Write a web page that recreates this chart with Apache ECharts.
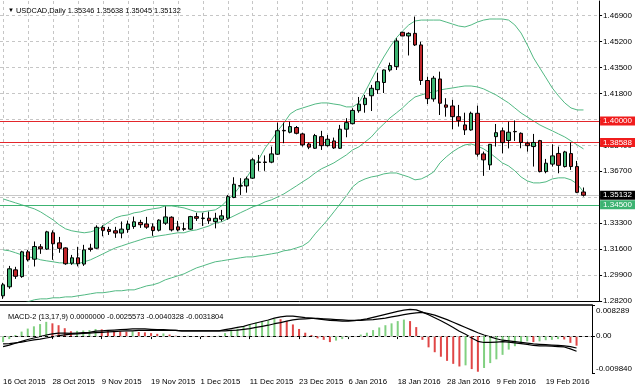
<!DOCTYPE html>
<html><head><meta charset="utf-8">
<script src="https://cdn.jsdelivr.net/npm/echarts@6/dist/echarts.min.js"></script>
<style>html,body{margin:0;padding:0;background:#fff}#c{width:635px;height:391px}</style>
</head><body><div id="c"></div>
<script>
const dates = ["16 Oct 2015","19 Oct 2015","20 Oct 2015","21 Oct 2015","22 Oct 2015","23 Oct 2015","26 Oct 2015","27 Oct 2015","28 Oct 2015","29 Oct 2015","30 Oct 2015",
"2 Nov 2015","3 Nov 2015","4 Nov 2015","5 Nov 2015","6 Nov 2015","9 Nov 2015","10 Nov 2015","11 Nov 2015","12 Nov 2015","13 Nov 2015",
"16 Nov 2015","17 Nov 2015","18 Nov 2015","19 Nov 2015","20 Nov 2015","23 Nov 2015","24 Nov 2015","25 Nov 2015","26 Nov 2015","27 Nov 2015",
"30 Nov 2015","1 Dec 2015","2 Dec 2015","3 Dec 2015","4 Dec 2015","7 Dec 2015","8 Dec 2015","9 Dec 2015","10 Dec 2015","11 Dec 2015",
"14 Dec 2015","15 Dec 2015","16 Dec 2015","17 Dec 2015","18 Dec 2015","21 Dec 2015","22 Dec 2015","23 Dec 2015","24 Dec 2015",
"28 Dec 2015","29 Dec 2015","30 Dec 2015","31 Dec 2015","4 Jan 2016","5 Jan 2016","6 Jan 2016","7 Jan 2016","8 Jan 2016",
"11 Jan 2016","12 Jan 2016","13 Jan 2016","14 Jan 2016","15 Jan 2016","18 Jan 2016","19 Jan 2016","20 Jan 2016","21 Jan 2016","22 Jan 2016",
"25 Jan 2016","26 Jan 2016","27 Jan 2016","28 Jan 2016","29 Jan 2016","1 Feb 2016","2 Feb 2016","3 Feb 2016","4 Feb 2016","5 Feb 2016",
"8 Feb 2016","9 Feb 2016","10 Feb 2016","11 Feb 2016","12 Feb 2016","15 Feb 2016","16 Feb 2016","17 Feb 2016","18 Feb 2016","19 Feb 2016",
"22 Feb 2016","23 Feb 2016","24 Feb 2016","25 Feb 2016","26 Feb 2016"];
const rightShiftSlots = 2;

const opens = [1.2854,1.2913,1.3024,1.2980,1.3142,1.3094,1.3175,1.3160,1.3267,1.3201,1.3168,1.3068,1.3103,1.3062,1.3166,1.3166,1.3303,1.3289,1.3280,1.3265,
1.3289,1.3308,1.3335,1.3325,1.3306,1.3284,1.3330,1.3369,1.3306,1.3294,1.3291,1.3373,1.3363,1.3363,1.3340,1.3356,1.3363,1.3498,1.3573,1.3574,
1.3625,1.3728,1.3731,1.3730,1.3782,1.3938,1.3926,1.3957,1.3915,1.3849,1.3821,1.3897,1.3838,1.3869,1.3821,1.3946,1.3982,1.4067,1.4107,1.4165,
1.4205,1.4252,1.4334,1.4356,1.4581,1.4557,1.4574,1.4498,1.4265,1.4144,1.4275,1.4105,1.4098,1.4028,1.3974,1.3941,1.4050,1.3784,1.3712,1.3897,
1.3935,1.3872,1.3931,1.3919,1.3854,1.3832,1.3871,1.3668,1.3717,1.3787,1.3701,1.3786,1.3701,1.35346];
const closes = [1.2926,1.3031,1.2982,1.3142,1.3090,1.3177,1.3162,1.3273,1.3195,1.3165,1.3064,1.3103,1.3064,1.3155,1.3158,1.3303,1.3283,1.3276,1.3265,1.3291,
1.3324,1.3339,1.3320,1.3304,1.3282,1.3350,1.3371,1.3286,1.3286,1.3290,1.3373,1.3362,1.3361,1.3346,1.3362,1.3378,1.3504,1.3585,1.3576,1.3620,
1.3745,1.3731,1.3728,1.3784,1.3936,1.3935,1.3963,1.3919,1.3843,1.3828,1.3904,1.3838,1.3880,1.3823,1.3946,1.3989,1.4069,1.4110,1.4149,1.4214,
1.4257,1.4334,1.4363,1.4524,1.4557,1.4574,1.4498,1.4265,1.4146,1.4280,1.4116,1.4090,1.4028,1.4002,1.3941,1.4050,1.3782,1.3745,1.3847,1.3923,
1.3858,1.3926,1.3929,1.3859,1.3838,1.3859,1.3668,1.3723,1.3771,1.3709,1.3797,1.3701,1.3532,1.35132];
const lows = [1.2834,1.2900,1.2965,1.2972,1.3079,1.3046,1.3129,1.3155,1.3090,1.3136,1.3057,1.3057,1.3047,1.3050,1.3144,1.3162,1.3244,1.3253,1.3234,1.3231,
1.3267,1.3293,1.3299,1.3293,1.3247,1.3276,1.3319,1.3276,1.3276,1.3280,1.3286,1.3345,1.3312,1.3325,1.3296,1.3341,1.3352,1.3494,1.3515,1.3530,
1.3620,1.3673,1.3673,1.3723,1.3777,1.3854,1.3919,1.3912,1.3832,1.3815,1.3817,1.3810,1.3832,1.3817,1.3817,1.3893,1.3977,1.4054,1.4054,1.4065,
1.4177,1.4183,1.4323,1.4334,1.4555,1.4429,1.4491,1.4236,1.4111,1.4126,1.4039,1.4028,1.3946,1.3963,1.3908,1.3936,1.3766,1.3640,1.3679,1.3832,
1.3788,1.3820,1.3869,1.3821,1.3799,1.3701,1.3663,1.3657,1.3701,1.3657,1.3695,1.3679,1.3527,1.35045];
const highs = [1.2939,1.3050,1.3044,1.3149,1.3155,1.3210,1.3193,1.3280,1.3283,1.3240,1.3172,1.3122,1.3175,1.3188,1.3195,1.3316,1.3316,1.3306,1.3306,1.3341,
1.3347,1.3373,1.3352,1.3371,1.3329,1.3355,1.3440,1.3375,1.3345,1.3334,1.3378,1.3398,1.3398,1.3406,1.3398,1.3417,1.3515,1.3631,1.3625,1.3635,
1.3756,1.3777,1.3774,1.3832,1.3989,1.3989,1.3995,1.3967,1.3923,1.3858,1.3915,1.3935,1.3908,1.3891,1.3974,1.4018,1.4083,1.4157,1.4170,1.4236,
1.4316,1.4337,1.4382,1.4542,1.4583,1.4581,1.4684,1.4519,1.4290,1.4295,1.4323,1.4149,1.4138,1.4105,1.4054,1.4061,1.4100,1.3799,1.3849,1.3980,
1.3956,1.3995,1.4003,1.3925,1.3864,1.3915,1.3876,1.3751,1.3847,1.3832,1.3804,1.3859,1.3738,1.35638];

const bbUpper = [1.3489,1.3476,1.3463,1.3450,1.3437,1.3424,1.3404,1.3378,1.3352,1.3319,1.3293,1.3280,1.3273,1.3267,1.3273,1.3286,1.3312,1.3339,1.3365,1.3378,
1.3384,1.3398,1.3404,1.3417,1.3424,1.3430,1.3443,1.3443,1.3437,1.3430,1.3417,1.3404,1.3404,1.3411,1.3417,1.3443,1.3483,1.3522,1.3574,1.3627,
1.3692,1.3751,1.3823,1.3876,1.3935,1.3987,1.4046,1.4072,1.4085,1.4098,1.4111,1.4118,1.4118,1.4111,1.4105,1.4092,1.4092,1.4118,1.4190,1.4269,
1.4347,1.4419,1.4485,1.4544,1.4589,1.4629,1.4655,1.4661,1.4661,1.4661,1.4661,1.4648,1.4635,1.4622,1.4616,1.4629,1.4648,1.4661,1.4668,1.4668,
1.4668,1.4661,1.4629,1.4576,1.4498,1.4413,1.4347,1.4282,1.4216,1.4164,1.4118,1.4085,1.4072,1.4072];
const bbMiddle = [1.3155,1.3149,1.3136,1.3122,1.3109,1.3103,1.3090,1.3083,1.3077,1.3070,1.3070,1.3064,1.3064,1.3077,1.3090,1.3109,1.3129,1.3149,1.3168,1.3181,
1.3195,1.3208,1.3221,1.3234,1.3240,1.3247,1.3253,1.3260,1.3267,1.3267,1.3280,1.3286,1.3299,1.3312,1.3332,1.3339,1.3358,1.3378,1.3398,1.3417,
1.3437,1.3450,1.3470,1.3483,1.3502,1.3522,1.3548,1.3574,1.3601,1.3627,1.3659,1.3686,1.3705,1.3725,1.3751,1.3777,1.3810,1.3830,1.3862,1.3895,
1.3941,1.3980,1.4020,1.4052,1.4085,1.4124,1.4157,1.4170,1.4183,1.4190,1.4203,1.4210,1.4216,1.4223,1.4229,1.4229,1.4223,1.4210,1.4190,1.4170,
1.4144,1.4118,1.4085,1.4052,1.4026,1.4000,1.3974,1.3954,1.3935,1.3915,1.3895,1.3869,1.3843,1.3817];
const bbLower = [1.2749,1.2769,1.2788,1.2802,1.2815,1.2828,1.2834,1.2834,1.2841,1.2841,1.2847,1.2847,1.2854,1.2860,1.2867,1.2874,1.2874,1.2880,1.2887,1.2887,
1.2893,1.2893,1.2906,1.2919,1.2926,1.2939,1.2959,1.2972,1.2985,1.2998,1.3018,1.3037,1.3050,1.3064,1.3077,1.3083,1.3090,1.3096,1.3103,1.3109,
1.3109,1.3116,1.3122,1.3129,1.3136,1.3149,1.3155,1.3168,1.3181,1.3208,1.3260,1.3306,1.3352,1.3404,1.3456,1.3509,1.3568,1.3601,1.3620,1.3633,
1.3640,1.3653,1.3659,1.3659,1.3646,1.3633,1.3614,1.3620,1.3640,1.3666,1.3725,1.3764,1.3797,1.3823,1.3843,1.3849,1.3836,1.3817,1.3790,1.3758,
1.3725,1.3705,1.3673,1.3633,1.3607,1.3594,1.3594,1.3601,1.3620,1.3627,1.3627,1.3614,1.3587,1.3535];

const macdMain = [-0.0028,-0.0024,-0.0019,-0.0014,-0.0009,-0.0005,-0.0001,0.0003,0.0006,0.0008,0.0008,0.0007,0.0008,0.0009,0.0010,0.0013,0.0014,0.0015,0.0016,0.0017,
0.0018,0.0019,0.0019,0.0019,0.0018,0.0017,0.0017,0.0016,0.0015,0.0014,0.0014,0.0014,0.0014,0.0014,0.0014,0.0014,0.0017,0.0020,0.0023,0.0026,
0.0031,0.0035,0.0039,0.0043,0.0048,0.0051,0.0053,0.0053,0.0051,0.0049,0.0048,0.0046,0.0044,0.0042,0.0041,0.0040,0.0040,0.0041,0.0043,0.0046,
0.0050,0.0054,0.0058,0.0062,0.0066,0.0069,0.0071,0.0070,0.0064,0.0057,0.0049,0.0041,0.0032,0.0023,0.0013,0.0005,-0.0005,-0.0014,-0.0017,-0.0017,
-0.0016,-0.0015,-0.0016,-0.0018,-0.0020,-0.0022,-0.0025,-0.0026,-0.0026,-0.0027,-0.0028,-0.0029,-0.0034,-0.0040328];
const macdSignal = [-0.0021,-0.0020,-0.0018,-0.0016,-0.0013,-0.0010,-0.0008,-0.0005,-0.0002,0.0001,0.0003,0.0005,0.0006,0.0007,0.0008,0.0009,0.0010,0.0011,0.0012,0.0013,
0.0014,0.0014,0.0015,0.0015,0.0015,0.0015,0.0015,0.0015,0.0015,0.0014,0.0014,0.0014,0.0014,0.0014,0.0014,0.0014,0.0014,0.0015,0.0016,0.0018,
0.0020,0.0023,0.0026,0.0029,0.0033,0.0036,0.0040,0.0043,0.0045,0.0046,0.0047,0.0047,0.0046,0.0045,0.0044,0.0043,0.0042,0.0042,0.0042,0.0043,
0.0044,0.0046,0.0048,0.0051,0.0054,0.0057,0.0060,0.0062,0.0063,0.0060,0.0056,0.0050,0.0044,0.0037,0.0030,0.0023,0.0016,0.0009,0.0003,-0.0002,
-0.0007,-0.0011,-0.0013,-0.0015,-0.0017,-0.0019,-0.0021,-0.0022,-0.0023,-0.0024,-0.0025,-0.0026,-0.0028,-0.0031804];
const macdHist = [-0.0016,-0.0008,0.0003,0.0012,0.0020,0.0026,0.0032,0.0038,0.0034,0.0029,0.0021,0.0013,0.0014,0.0015,0.0016,0.0019,0.0018,0.0016,0.0014,0.0013,
0.0012,0.0013,0.0011,0.0010,0.0008,0.0006,0.0007,0.0004,0.0001,-0.0001,0.0001,0.0000,-0.0001,-0.0002,-0.0001,0.0001,0.0008,0.0014,0.0020,0.0025,
0.0032,0.0036,0.0039,0.0042,0.0046,0.0045,0.0040,0.0031,0.0019,0.0009,0.0003,-0.0006,-0.0010,-0.0016,-0.0012,-0.0008,-0.0003,0.0000,0.0004,0.0009,
0.0016,0.0023,0.0029,0.0034,0.0040,0.0044,0.0040,0.0024,-0.0010,-0.0030,-0.0043,-0.0055,-0.0066,-0.0074,-0.0081,-0.0078,-0.0088,-0.0095,-0.0085,-0.0072,
-0.0062,-0.0050,-0.0036,-0.0027,-0.0021,-0.0014,-0.0016,-0.0014,-0.0011,-0.0010,-0.0008,-0.0009,-0.0018,-0.0025573];
const macdReadout = [0.0000000, -0.0025573, -0.0040328, -0.0031804];

const priceTicks = [1.282,1.299,1.316,1.333,1.350,1.367,1.384,1.401,1.418,1.435,1.452,1.469];
const macdTicks = [0.008289, 0, -0.00984];
const levelValues = [1.40000, 1.38588, 1.35132, 1.34500];

// ---- styles ----
const FONT = 'Liberation Sans';
const levelStyles = [
  {line:'#e3262b', box:'#f01c1c'},
  {line:'#e3262b', box:'#f01c1c'},
  {line:'#c8c8c8', box:'#000000'},
  {line:'#3cb371', box:'#3cb371'}
];
const GRID_COLOR = '#c6c6c6';

const cats = dates.concat(Array(rightShiftSlots).fill(''));
const candleData = opens.map((o, i) => [o, closes[i], lows[i], highs[i]]);
const n = opens.length - 1;
const fmt5 = v => v.toFixed(5);
const titleText = '{a|▼} USDCAD,Daily ' + [opens[n], highs[n], lows[n], closes[n]].map(fmt5).join(' ');
const macdText = 'MACD-2 (13,17,9) ' + macdReadout.map(v => v.toFixed(7)).join(' ');

const chart = echarts.init(document.getElementById('c'), null, {renderer: 'canvas'});
chart.setOption({
  animation: false,
  backgroundColor: '#ffffff',
  textStyle: {fontFamily: FONT},
  title: [
    {left: 3, top: 2, text: titleText, textStyle: {fontSize: 7.4, fontWeight: 'normal', color: '#000', fontFamily: FONT, rich: {a: {fontSize: 6, color: '#000'}}}},
    {left: 3, top: 308, text: macdText, textStyle: {fontSize: 7.4, fontWeight: 'normal', color: '#000', fontFamily: FONT}}
  ],
  grid: [
    {left: 0, top: 1, width: 600, height: 300},
    {left: 0, top: 305, width: 600, height: 68}
  ],
  xAxis: [
    {type: 'category', gridIndex: 0, data: cats, boundaryGap: true,
     axisLine: {show: true, lineStyle: {color: '#000', width: 1}},
     axisTick: {show: false}, axisLabel: {show: false},
     splitLine: {show: true, interval: 3, alignWithLabel: true, lineStyle: {color: GRID_COLOR, type: [3, 3]}}},
    {type: 'category', gridIndex: 1, data: cats, boundaryGap: true, position: 'bottom',
     axisLine: {show: true, lineStyle: {color: '#000', width: 1}},
     axisTick: {show: true, interval: 7, alignWithLabel: true, length: 3, lineStyle: {color: '#000'}},
     axisLabel: {show: true, interval: 7, align: 'left', fontSize: 7.8, color: '#000', margin: 5, fontFamily: FONT},
     splitLine: {show: false}},
    {type: 'category', gridIndex: 1, data: cats, boundaryGap: true, position: 'top',
     axisLine: {show: true, lineStyle: {color: '#000', width: 1.5}},
     axisTick: {show: false}, axisLabel: {show: false}, splitLine: {show: false}}
  ],
  yAxis: [
    {type: 'value', gridIndex: 0, position: 'right', min: 1.2820, max: 1.4786, scale: true,
     axisLine: {show: true, lineStyle: {color: '#000'}},
     axisTick: {show: true, length: 3, inside: false, customValues: priceTicks, lineStyle: {color: '#000'}},
     axisLabel: {show: true, customValues: priceTicks, formatter: v => v.toFixed(5), fontSize: 8, color: '#000', margin: 4, fontFamily: FONT},
     splitLine: {show: true, lineStyle: {color: GRID_COLOR, type: [3, 3]}}},
    {type: 'value', gridIndex: 1, position: 'right', min: -0.00984, max: 0.008289,
     axisLine: {show: true, lineStyle: {color: '#000'}},
     axisTick: {show: true, length: 3, customValues: macdTicks, lineStyle: {color: '#000'}},
     axisLabel: {show: true, customValues: macdTicks, fontSize: 8, color: '#000', margin: 4, fontFamily: FONT,
       formatter: v => v === 0 ? '0.00' : (v > 0 ? '{t|' + v.toFixed(6) + '}' : '{b|' + v.toFixed(6) + '}'),
       rich: {t: {fontSize: 8, padding: [12, 0, 0, 0]}, b: {fontSize: 8, padding: [0, 0, 8, 0]}}},
     splitLine: {show: false}}
  ],
  series: [
    {type: 'line', name: 'bbU', xAxisIndex: 0, yAxisIndex: 0, data: bbUpper, showSymbol: false, symbol: 'none',
     lineStyle: {color: '#52b983', width: 1}, z: 2, clip: true},
    {type: 'line', name: 'bbM', xAxisIndex: 0, yAxisIndex: 0, data: bbMiddle, showSymbol: false, symbol: 'none',
     lineStyle: {color: '#52b983', width: 1}, z: 2, clip: true},
    {type: 'line', name: 'bbL', xAxisIndex: 0, yAxisIndex: 0, data: bbLower, showSymbol: false, symbol: 'none',
     lineStyle: {color: '#52b983', width: 1}, z: 2, clip: true},
    {type: 'candlestick', xAxisIndex: 0, yAxisIndex: 0, data: candleData, barWidth: 4, z: 4,
     itemStyle: {color: '#3cb371', color0: '#c0262b', borderColor: '#000', borderColor0: '#000', borderWidth: 1},
     markLine: {
       silent: true, symbol: ['none', 'none'], animation: false, z: 3, precision: 5,
       data: levelValues.map((v, i) => ({
         yAxis: v,
         lineStyle: {color: levelStyles[i].line, width: 1, type: 'solid'},
         label: {show: true, position: 'end', distance: 1, formatter: fmt5(v), color: '#fff',
                 backgroundColor: levelStyles[i].box, padding: [1, 3, 0, 3], fontSize: 8, fontFamily: FONT}
       }))
     }},
    {type: 'bar', xAxisIndex: 1, yAxisIndex: 1, data: macdHist, barWidth: 2,
     itemStyle: {color: p => (p.dataIndex === 0 || macdHist[p.dataIndex] >= macdHist[p.dataIndex - 1]) ? '#80d080' : '#e04646'},
     markLine: {silent: true, symbol: ['none', 'none'], animation: false, label: {show: false}, precision: 6,
       data: [{yAxis: 0}], lineStyle: {color: '#bdbdbd', type: [3, 3], width: 1}}},
    {type: 'line', xAxisIndex: 1, yAxisIndex: 1, data: macdMain, showSymbol: false, symbol: 'none',
     lineStyle: {color: '#000', width: 1.2}, z: 3},
    {type: 'line', xAxisIndex: 1, yAxisIndex: 1, data: macdSignal, showSymbol: false, symbol: 'none',
     lineStyle: {color: '#000', width: 1.2}, z: 3}
  ]
});
</script>
</body></html>
